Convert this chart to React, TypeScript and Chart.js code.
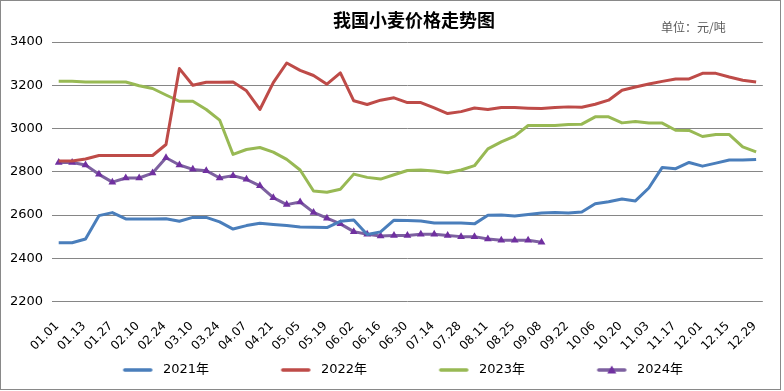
import React, { useEffect, useRef } from 'react';
import { Chart, registerables } from 'chart.js';
Chart.register(...registerables);

const categories = ['01.01','01.06','01.13','01.20','01.27','02.03','02.10','02.17','02.24','03.03','03.10','03.17','03.24','03.31','04.07','04.14','04.21','04.28','05.05','05.12','05.19','05.26','06.02','06.09','06.16','06.23','06.30','07.07','07.14','07.21','07.28','08.04','08.11','08.18','08.25','09.01','09.08','09.15','09.22','09.29','10.06','10.13','10.20','10.27','11.03','11.10','11.17','11.24','12.01','12.08','12.15','12.22','12.29'];

const series2021 = [2472,2472,2489,2597,2611,2582,2582,2582,2583,2571,2589,2589,2568,2535,2551,2562,2556,2551,2545,2543,2542,2571,2577,2510,2522,2576,2574,2572,2563,2563,2563,2559,2599,2600,2595,2602,2609,2612,2609,2614,2652,2661,2674,2665,2725,2820,2814,2843,2826,2840,2854,2854,2857];
const series2022 = [2850,2850,2859,2875,2875,2875,2875,2875,2926,3277,3200,3214,3214,3215,3174,3088,3212,3303,3269,3245,3205,3257,3128,3111,3131,3142,3120,3120,3095,3069,3078,3095,3088,3097,3097,3094,3092,3097,3100,3098,3112,3131,3177,3192,3206,3218,3229,3229,3255,3255,3238,3223,3215];
const series2023 = [3218,3218,3215,3215,3215,3215,3198,3185,3155,3126,3126,3088,3039,2880,2903,2912,2891,2857,2808,2711,2705,2719,2789,2774,2766,2786,2806,2808,2803,2795,2808,2828,2906,2938,2965,3014,3014,3014,3018,3020,3054,3054,3026,3032,3025,3025,2992,2991,2963,2972,2972,2915,2892];
const series2024 = [2843,2843,2831,2788,2752,2771,2771,2794,2865,2831,2811,2805,2771,2782,2765,2735,2680,2648,2660,2612,2585,2559,2523,2511,2503,2505,2505,2511,2511,2505,2500,2500,2489,2483,2483,2483,2474];

const seriesNames = ['2021年', '2022年', '2023年', '2024年'];
const yTicks = { min: 2200, max: 3400, step: 200 };

const COLORS = ['#4A7EBB', '#BE4B48', '#98B954', '#7D60A0'];
const MARKER = '#7030A0';
const FONT = '"DejaVu Sans", "Noto Sans CJK SC", sans-serif';

function makeSwatch(color: string, w: number, triangle: boolean) {
  const cw = Math.max(34, Math.round(w));
  const c = document.createElement('canvas');
  c.width = cw;
  c.height = 12;
  const ctx = c.getContext('2d')!;
  ctx.strokeStyle = color;
  ctx.lineWidth = 3.5;
  ctx.lineCap = 'round';
  ctx.beginPath();
  ctx.moveTo(cw - 32, 6);
  ctx.lineTo(cw - 6, 6);
  ctx.stroke();
  if (triangle) {
    const cx = cw - 19;
    ctx.fillStyle = MARKER;
    ctx.beginPath();
    ctx.moveTo(cx, 1.5);
    ctx.lineTo(cx + 4.5, 9.5);
    ctx.lineTo(cx - 4.5, 9.5);
    ctx.closePath();
    ctx.fill();
  }
  return c;
}

export default function App() {
  const ref = useRef<HTMLCanvasElement | null>(null);
  useEffect(() => {
    document.body.style.margin = '0';
    if (!ref.current) return;
    const mctx = document.createElement('canvas').getContext('2d')!;
    mctx.font = 'normal 13px ' + FONT;
    const T = mctx.measureText(seriesNames[0]).width;
    const W = 30.5 + T;
    const pad = Math.max(4, 158 - W - 6.5 - T);
    const xh = 62 - pad;
    const swatches = COLORS.map((c, i) => makeSwatch(c, W, i === 3));
    const all = [series2021, series2022, series2023, series2024];
    const chart = new Chart(ref.current, {
      type: 'line',
      data: {
        labels: categories,
        datasets: all.map((d, i) => ({
          label: seriesNames[i],
          data: d,
          borderColor: COLORS[i],
          backgroundColor: i === 3 ? MARKER : COLORS[i],
          borderWidth: 3,
          pointRadius: i === 3 ? 4.5 : 0,
          pointStyle: 'triangle',
          pointBorderWidth: 0,
          pointBackgroundColor: MARKER,
          tension: 0,
          fill: false,
          borderJoinStyle: 'round',
        })) as any,
      },
      options: {
        animation: false,
        responsive: false,
        maintainAspectRatio: false,
        layout: { padding: { top: 42, right: 21, bottom: 4.5, left: 0 } },
        plugins: {
          tooltip: { enabled: false },
          title: { display: false },
          legend: {
            position: 'bottom',
            labels: {
              usePointStyle: true,
              pointStyleWidth: W,
              padding: pad,
              color: '#000',
              font: { size: 13, family: FONT },
              generateLabels: (ch: any) =>
                ch.data.datasets.map((ds: any, i: number) => ({
                  text: ds.label,
                  pointStyle: swatches[i],
                  fillStyle: COLORS[i],
                  strokeStyle: COLORS[i],
                  lineWidth: 0,
                  hidden: false,
                  datasetIndex: i,
                  fontColor: '#000',
                })),
            },
          },
        },
        scales: {
          x: {
            offset: true,
            grid: { display: false, drawTicks: false },
            border: { display: false },
            afterFit: (s: any) => {
              s.height = xh;
              s._computeLabelArea = () => undefined;
            },
            ticks: {
              autoSkip: false,
              minRotation: 45,
              maxRotation: 45,
              padding: 17.5,
              labelOffset: -1.5,
              color: '#000',
              font: { size: 12, family: FONT },
              callback: (_v: any, i: number) => (i % 2 === 0 ? categories[i] : ''),
            },
          },
          y: {
            min: yTicks.min,
            max: yTicks.max,
            afterFit: (s: any) => { s.width = 52; },
            grid: { color: '#868686', lineWidth: 1, drawTicks: false },
            border: { display: false },
            ticks: {
              stepSize: yTicks.step,
              padding: 9,
              color: '#000',
              font: { size: 13, family: FONT },
              callback: (v: any) => String(v),
            },
          },
        },
      } as any,
    });
    return () => chart.destroy();
  }, []);
  return (
    <div style={{ position: 'relative', width: 784, height: 391, background: '#fff' }}>
      <canvas ref={ref} width={784} height={391} style={{ position: 'absolute', left: 0, top: 0, width: 784, height: 391 }} />
      <div style={{ position: 'absolute', left: 0, top: 0, width: 781, height: 390, boxSizing: 'border-box', border: '1px solid #898989', pointerEvents: 'none' }} />
      <div style={{ position: 'absolute', left: 414, top: 10, transform: 'translateX(-50%)', whiteSpace: 'nowrap', fontFamily: '"Noto Sans CJK SC", sans-serif', fontWeight: 'bold', fontSize: 18, lineHeight: '18px', color: '#000' }}>我国小麦价格走势图</div>
      <div style={{ position: 'absolute', left: 661, top: 21, whiteSpace: 'nowrap', fontFamily: '"Noto Sans CJK SC", sans-serif', fontSize: 12, lineHeight: '12px', color: '#595959' }}>单位：元/吨</div>
    </div>
  );
}
